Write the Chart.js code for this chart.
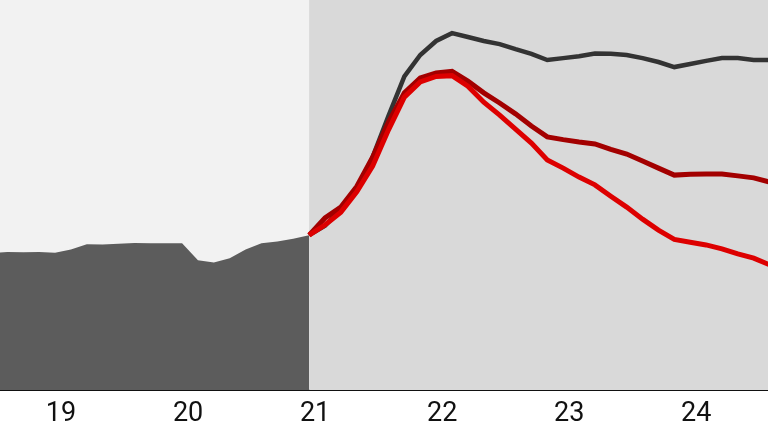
<!DOCTYPE html>
<html>
<head>
<meta charset="utf-8">
<script src="https://cdn.jsdelivr.net/npm/chart.js@4.4.1/dist/chart.umd.min.js"></script>
<style>
  html, body { margin: 0; padding: 0; background: #fff; }
  #wrap { width: 768px; height: 432px; }
</style>
</head>
<body>
<div id="wrap"><canvas id="myChart" width="768" height="432"></canvas></div>
<script>
'use strict';

// Time axis: hours counted from the start of day 19
let forecastStart = 48;
let dayTicks = [0, 24, 48, 72, 96, 120];
let dayLabels = ['19', '20', '21', '22', '23', '24'];

// Observed history (filled area)
let historyHours = [-12, -9, -6, -3, 0, 3, 6, 9, 12, 15, 18, 21, 24, 27, 30, 33, 36, 39, 42, 45, 48];
let historyValues = [35.1, 35.4, 35.3, 35.4, 35.2, 36.0, 37.4, 37.3, 37.5, 37.7, 37.6, 37.6, 37.6,
  33.3, 32.7, 33.8, 36.0, 37.6, 38.1, 38.8, 39.7];

// Forecast runs
let forecastHours = [48, 51, 54, 57, 60, 63, 66, 69, 72, 75, 78, 81, 84, 87, 90, 93, 96, 99, 102,
  105, 108, 111, 114, 117, 120, 123, 126, 129, 132, 135];
let upperValues = [39.7, 42.1, 46.4, 51.5, 59.7, 70.3, 80.4, 85.9, 89.5, 91.5, 90.5, 89.5, 88.7,
  87.4, 86.2, 84.6, 85.1, 85.6, 86.3, 86.2, 85.9, 85.1, 84.1, 82.8, 83.6, 84.4, 85.1, 85.1, 84.6, 84.6];
let middleValues = [39.7, 44.1, 46.9, 52.2, 59.7, 68.7, 76.2, 80.0, 81.3, 81.7, 79.2, 76.2, 73.6,
  70.8, 67.7, 64.9, 64.2, 63.6, 63.1, 61.7, 60.5, 58.7, 56.9, 55.1, 55.3, 55.4, 55.4, 54.9, 54.4, 53.3];
let lowerValues = [39.7, 42.3, 45.6, 50.8, 57.4, 66.7, 75.1, 79.0, 80.4, 80.6, 77.9, 73.8, 70.5,
  66.9, 63.3, 59.0, 56.9, 54.6, 52.6, 49.7, 46.9, 43.8, 41.0, 38.6, 37.9, 37.2, 36.2, 34.9, 33.8, 32.1];

function toPoints(xs, ys) {
  return xs.map((x, i) => ({ x: x, y: ys[i] }));
}

// Shaded past / forecast backgrounds
const backgroundBands = {
  id: 'backgroundBands',
  beforeDatasetsDraw(chart) {
    let ctx = chart.ctx;
    let area = chart.chartArea;
    let split = chart.scales.x.getPixelForValue(forecastStart);
    ctx.save();
    ctx.fillStyle = '#f2f2f2';
    ctx.fillRect(area.left, area.top, split - area.left, area.bottom - area.top);
    ctx.fillStyle = '#d9d9d9';
    ctx.fillRect(split, area.top, area.right - split, area.bottom - area.top);
    ctx.restore();
  }
};

let ctx = document.getElementById('myChart').getContext('2d');
let myChart = new Chart(ctx, {
  type: 'line',
  data: {
    datasets: [
      {
        data: toPoints(forecastHours, lowerValues),
        borderColor: '#dd0000',
        borderWidth: 5,
        pointRadius: 0,
        fill: false,
        order: 1
      },
      {
        data: toPoints(forecastHours, middleValues),
        borderColor: '#a30000',
        borderWidth: 5,
        pointRadius: 0,
        fill: false,
        order: 2
      },
      {
        data: toPoints(forecastHours, upperValues),
        borderColor: '#333333',
        borderWidth: 4.5,
        pointRadius: 0,
        fill: false,
        order: 3
      },
      {
        data: toPoints(historyHours, historyValues),
        borderWidth: 0,
        borderColor: 'rgba(0,0,0,0)',
        backgroundColor: '#5c5c5c',
        pointRadius: 0,
        fill: 'start',
        order: 4
      }
    ]
  },
  options: {
    responsive: false,
    animation: false,
    devicePixelRatio: 1,
    layout: { padding: 0 },
    plugins: {
      legend: { display: false },
      tooltip: { enabled: false }
    },
    scales: {
      x: {
        type: 'linear',
        min: -10.4,
        max: 134.7,
        afterBuildTicks(scale) {
          scale.ticks = dayTicks.map(v => ({ value: v }));
        },
        afterFit(scale) {
          scale.height = 42;
        },
        ticks: {
          callback: (v) => dayLabels[dayTicks.indexOf(v)],
          labelOffset: 6,
          padding: 12,
          color: '#111',
          font: { family: 'Roboto', size: 27, lineHeight: '24px' },
          maxRotation: 0,
          autoSkip: false
        },
        grid: { color: 'rgba(0,0,0,0)', drawTicks: false },
        border: { display: true, color: '#111', width: 2 }
      },
      y: {
        display: false,
        min: 0,
        max: 100
      }
    }
  },
  plugins: [backgroundBands]
});
</script>
</body>
</html>
